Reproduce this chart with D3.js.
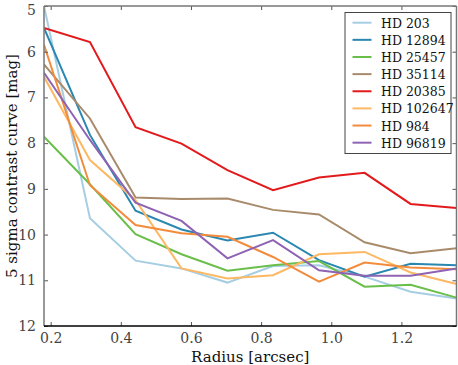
<!DOCTYPE html>
<html><head><meta charset="utf-8">
<script src="https://cdn.jsdelivr.net/npm/d3@7"></script>
<style>body{margin:0;background:#fff}svg{display:block}</style>
</head><body>
<script>
const radii = [0.181, 0.312, 0.442, 0.573, 0.704, 0.834, 0.965, 1.095, 1.226, 1.357];
const names = ["HD 203","HD 12894","HD 25457","HD 35114","HD 20385","HD 102647","HD 984","HD 96819"];
const colors = ["#a6cee3","#2a87b0","#6abf4b","#a88b6b","#e31a1c","#fdb863","#f28c3c","#8e63b3"];
const hd203    = [5.00, 9.64, 10.57, 10.74, 11.05, 10.69, 10.67, 10.92, 11.25, 11.40];
const hd12894  = [5.48, 7.82, 9.48, 9.89, 10.13, 9.96, 10.56, 10.92, 10.64, 10.67];
const hd25457  = [7.86, 8.90, 9.99, 10.43, 10.79, 10.67, 10.58, 11.14, 11.10, 11.38];
const hd35114  = [6.28, 7.46, 9.19, 9.22, 9.21, 9.46, 9.56, 10.17, 10.41, 10.30];
const hd20385  = [5.48, 5.79, 7.65, 8.01, 8.59, 9.03, 8.75, 8.65, 9.33, 9.42];
const hd102647 = [6.55, 8.37, 9.25, 10.74, 10.96, 10.89, 10.43, 10.38, 10.83, 11.08];
const hd984    = [5.85, 8.92, 9.79, 9.97, 10.05, 10.49, 11.03, 10.61, 10.72, 10.76];
const hd96819  = [6.46, 7.93, 9.30, 9.70, 10.52, 10.12, 10.78, 10.90, 10.90, 10.74];
const seriesValues = [hd203, hd12894, hd25457, hd35114, hd20385, hd102647, hd984, hd96819];
const xTicks = [0.2, 0.4, 0.6, 0.8, 1.0, 1.2];
const yTicks = [5, 6, 7, 8, 9, 10, 11, 12];

const W = 458, H = 365;
const m = {l: 44, r: 1.5, t: 6, b: 39};
const svg = d3.select("body").append("svg").attr("width", W).attr("height", H);
const x = d3.scaleLinear().domain([radii[0], radii[radii.length-1]]).range([m.l, W - m.r]);
const y = d3.scaleLinear().domain([5, 12]).range([m.t, H - m.b]);
const font = "DejaVu Serif";

svg.append("clipPath").attr("id","c").append("rect")
  .attr("x", m.l).attr("y", m.t).attr("width", W-m.r-m.l).attr("height", H-m.b-m.t);

const line = d3.line().x((d,i)=>x(radii[i])).y(d=>y(d));
const g = svg.append("g").attr("clip-path","url(#c)");
seriesValues.forEach((vals, k) => {
  g.append("path").datum(vals).attr("d", line).attr("fill","none")
   .attr("stroke", colors[k]).attr("stroke-width", 2).attr("stroke-linejoin","miter");
});

const axB = d3.axisBottom(x).tickValues(xTicks).tickFormat(d3.format(".1f")).tickSizeInner(-4).tickSizeOuter(0).tickPadding(7);
const axT = d3.axisTop(x).tickValues(xTicks).tickFormat("").tickSizeInner(-4).tickSizeOuter(0);
const axL = d3.axisLeft(y).tickValues(yTicks).tickFormat(d3.format("d")).tickSizeInner(-4).tickSizeOuter(0).tickPadding(8);
const axR = d3.axisRight(y).tickValues(yTicks).tickFormat("").tickSizeInner(-4).tickSizeOuter(0);

function style(sel) {
  sel.attr("font-family", font).attr("font-size", 14);
  sel.select(".domain").remove();
  sel.selectAll(".tick line").attr("stroke", "#555").attr("stroke-width", 1);
  sel.selectAll(".tick text").attr("fill","#444").attr("font-family", font).attr("font-size", 14);
}
style(svg.append("g").attr("transform",`translate(0,${H-m.b})`).call(axB));
style(svg.append("g").attr("transform",`translate(0,${m.t})`).call(axT));
const gl = svg.append("g").attr("transform",`translate(${m.l},0)`).call(axL);
style(gl);
gl.selectAll(".tick text").filter(d => d === 5).attr("dy", "0.6em");
style(svg.append("g").attr("transform",`translate(${W-m.r},0)`).call(axR));

svg.append("line").attr("x1",m.l).attr("x2",W-m.r).attr("y1",m.t).attr("y2",m.t).attr("stroke","#777").attr("stroke-width",1.5);
svg.append("line").attr("x1",W-m.r).attr("x2",W-m.r).attr("y1",m.t).attr("y2",H-m.b).attr("stroke","#777").attr("stroke-width",1.5);
svg.append("line").attr("x1",m.l).attr("x2",m.l).attr("y1",m.t).attr("y2",H-m.b).attr("stroke","#777").attr("stroke-width",1.5);
svg.append("line").attr("x1",m.l).attr("x2",W-m.r).attr("y1",H-m.b).attr("y2",H-m.b).attr("stroke","#000").attr("stroke-width",1.5);

svg.append("text").attr("x", (m.l + W - m.r)/2).attr("y", 362).attr("text-anchor","middle")
  .attr("font-family", font).attr("font-size", 15).attr("fill","#111").text("Radius [arcsec]");
svg.append("text").attr("transform",`translate(17,${(m.t + H - m.b)/2}) rotate(-90)`).attr("text-anchor","middle")
  .attr("font-family", font).attr("font-size", 15).attr("fill","#111").text("5 sigma contrast curve [mag]");

const lg = svg.append("g");
lg.append("rect").attr("x",345).attr("y",12.5).attr("width",106).attr("height",141)
  .attr("fill","#fff").attr("stroke","#444").attr("stroke-width",1);
names.forEach((n,k) => {
  const yy = 22.7 + k*17.14;
  lg.append("line").attr("x1",352.5).attr("x2",371.5).attr("y1",yy).attr("y2",yy)
    .attr("stroke",colors[k]).attr("stroke-width",2);
  lg.append("text").attr("x",381).attr("y",yy+5).attr("font-family",font).attr("font-size",12.5)
    .attr("fill","#111").text(n);
});
</script>
</body></html>
